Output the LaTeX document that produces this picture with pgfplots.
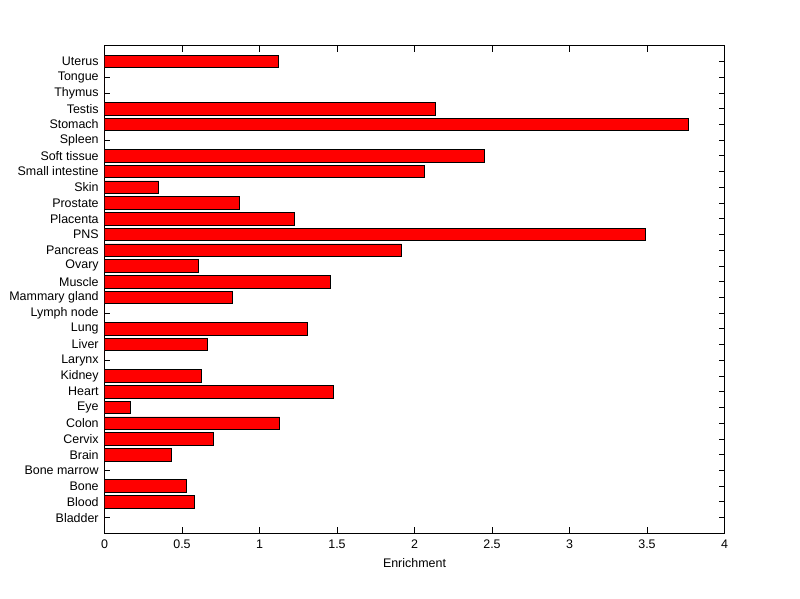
\documentclass[border=0pt]{standalone}
\usepackage{pgfplots}
\pgfplotsset{compat=1.18}
\usepackage{fontspec}
\setmainfont{Liberation Sans}
\begin{document}
\fontsize{12.5}{14}\selectfont
\begin{tikzpicture}[x=1bp,y=1bp]
\path[use as bounding box, fill=white] (-104.5,-65.7) rectangle ++(800,599);
\begin{axis}[
  at={(0,0)}, anchor=origin,
  scale only axis,
  width=620bp, height=487.6bp,
  xmin=0, xmax=4, ymin=0, ymax=31,
  xtick={0,0.5,...,4},
  xticklabels={0,0.5,1,1.5,2,2.5,3,3.5,4},
  ytick={1,...,30},
  yticklabels={Bladder,Blood,Bone,Bone marrow,Brain,Cervix,Colon,Eye,Heart,Kidney,Larynx,Liver,Lung,Lymph node,Mammary gland,Muscle,Ovary,Pancreas,PNS,Placenta,Prostate,Skin,Small intestine,Soft tissue,Spleen,Stomach,Testis,Thymus,Tongue,Uterus},
  /pgf/number format/assume math mode=true,
  ticklabel style={font=\fontsize{12.5}{14}\selectfont},
  xticklabel style={yshift=-2bp},
  yticklabel style={xshift=-1.5bp},
  xlabel={Enrichment},
  xlabel style={font=\fontsize{12.5}{14}\selectfont, yshift=-2bp},
  axis line style={black, line width=0.75bp},
  xtick pos=both, ytick pos=both,
  yticklabel pos=left,
  xtick align=inside, ytick align=inside,
  major tick length=6bp,
  xtick style={black, line width=0.75bp},
  ytick style={black, line width=0.75bp},
]
\addplot[xbar, bar width=0.8, fill=red, draw=black, line width=0.75bp] coordinates {
(0,1) (0.582,2) (0.530,3) (0,4) (0.433,5) (0.704,6) (1.130,7) (0.169,8)
(1.479,9) (0.627,10) (0,11) (0.666,12) (1.311,13) (0,14) (0.827,15)
(1.459,16) (0.608,17) (1.917,18) (3.491,19) (1.227,20) (0.872,21)
(0.350,22) (2.066,23) (2.453,24) (0,25) (3.769,26) (2.137,27) (0,28)
(0,29) (1.121,30)
};
\end{axis}
\end{tikzpicture}
\end{document}
